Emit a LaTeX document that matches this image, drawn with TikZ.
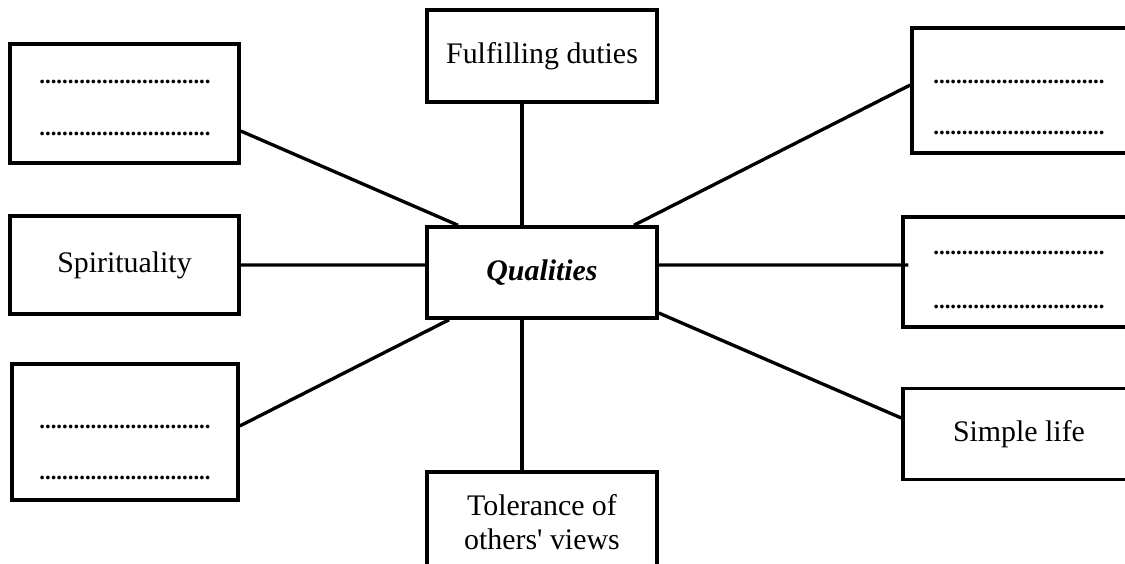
\documentclass[tikz,border=0pt]{standalone}
\usepackage{fontspec}
\setmainfont{Liberation Serif}
\newcommand{\chamcham}{..............................}
\begin{document}
\begin{tikzpicture}[x=0.02cm,y=-0.02cm,
	hop/.style={draw,line width=2pt,inner sep=2pt,align=center,font=\fontsize{17}{19.5}\selectfont},
	cham/.style={anchor=base,inner sep=0pt,font=\fontsize{13}{13}\selectfont\bfseries},
	noi/.style={line width=1.9pt}]
				\clip (0,0) rectangle (1125,564);
				
				% Ô trung tâm
				\node[hop,minimum width=4.6cm,minimum height=1.82cm] (q) at (542,272.5) {\textbf{\textit{Qualities}}};
				
				% Các ô bên trái
				\node[hop,minimum width=4.58cm,minimum height=2.38cm] (tl) at (124.5,103.5) {};
				\node[hop,minimum width=4.58cm,minimum height=1.96cm] (sp) at (124.5,265) {Spirituality};
				\node[hop,minimum width=4.52cm,minimum height=2.72cm] (bl) at (125,432) {};
				
				% Các ô ở giữa
				\node[hop,minimum width=4.6cm,minimum height=1.84cm] (fd) at (542,56) {Fulfilling duties};
				\node[hop,minimum width=4.6cm,minimum height=2cm] (tol) at (542,522) {Tolerance of\\others\textquotesingle{} views};
				
				% Các ô bên phải
				\node[hop,minimum width=4.56cm,minimum height=2.5cm] (tr) at (1026,90.5) {};
				\node[hop,minimum width=4.64cm,minimum height=2.2cm] (mr) at (1019,272) {};
				\node[hop,minimum width=4.64cm,minimum height=1.82cm] (sl) at (1019,434) {Simple life};
				
				% Các dòng chấm để điền
				\node[cham] (tl1) at (125,84) {\chamcham};
				\node[cham] (tl2) at (125,136) {\chamcham};
				\node[cham] (bl1) at (125,428) {\chamcham};
				\node[cham] (bl2) at (125,479) {\chamcham};
				\node[cham] (tr1) at (1019,84) {\chamcham};
				\node[cham] (tr2) at (1019,135) {\chamcham};
				\node[cham] (mr1) at (1019,255) {\chamcham};
				\node[cham] (mr2) at (1019,308) {\chamcham};
				
				% Các đường nối
				\draw[noi] ([yshift=-0.55cm]tl.east) -- ([xshift=-1.68cm]q.north);
				\draw[noi] ([xshift=-0.4cm]fd.south) -- ([xshift=-0.4cm]q.north);
				\draw[noi] ([xshift=1.84cm]q.north) -- ([yshift=0.11cm]tr.west);
				\draw[noi] ([yshift=0.15cm]q.west) -- (sp.east);
				\draw[noi] ([yshift=0.15cm]q.east) -- ([shift={(0.14cm,0.14cm)}]mr.west);
				\draw[noi] ([yshift=-0.81cm]q.east) -- ([yshift=0.32cm]sl.west);
				\draw[noi] ([xshift=-1.86cm]q.south) -- ([yshift=0.12cm]bl.east);
				\draw[noi] ([xshift=-0.4cm]q.south) -- ([xshift=-0.4cm]tol.north);
\end{tikzpicture}
\end{document}
